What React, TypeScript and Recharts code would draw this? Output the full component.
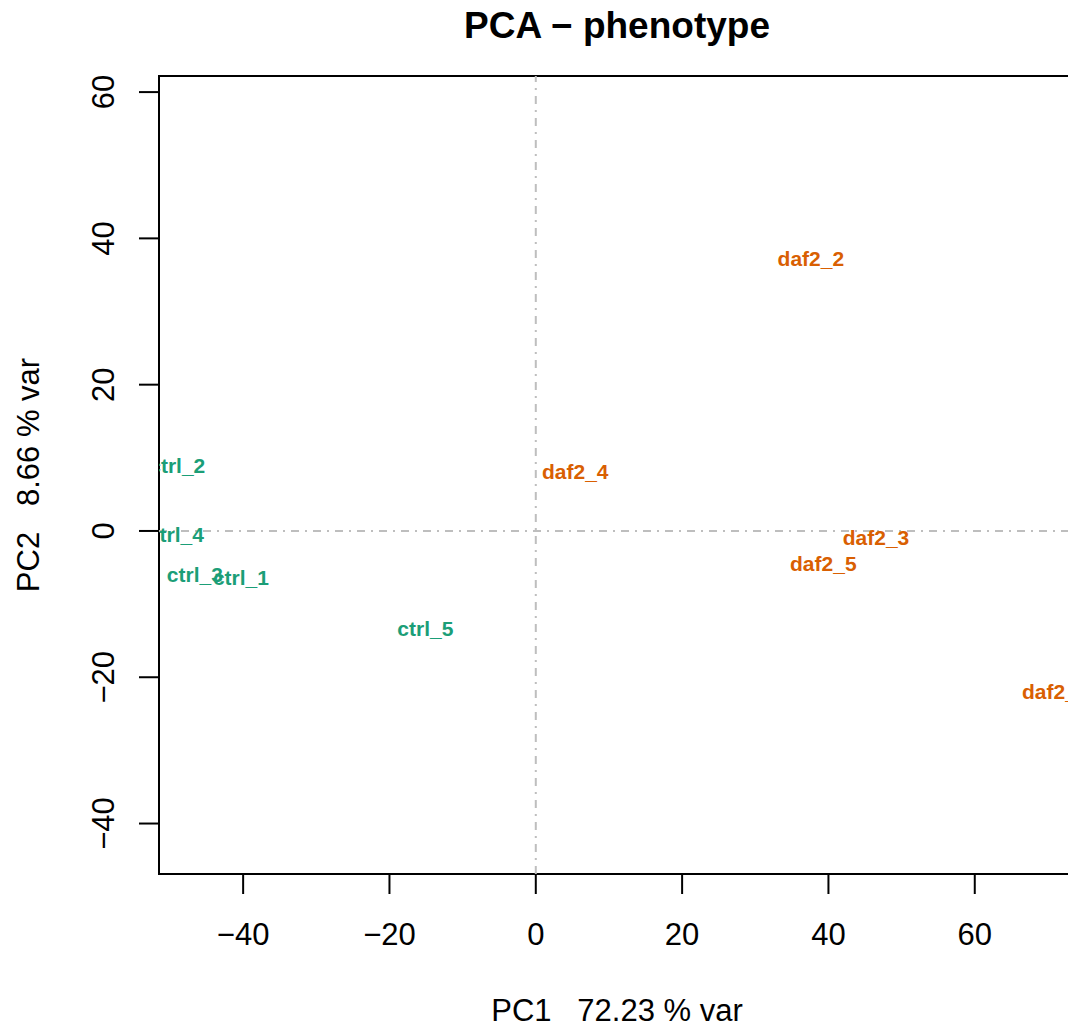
import React from 'react';
import {
  ScatterChart,
  Scatter,
  XAxis,
  YAxis,
  ReferenceLine,
  ReferenceArea,
  Customized,
} from 'recharts';

// ---- data ----
const ctrlNames = ['ctrl_1', 'ctrl_2', 'ctrl_3', 'ctrl_4', 'ctrl_5'];
const ctrlPC1 = [-40.3, -49.0, -46.6, -49.2, -15.1];
const ctrlPC2 = [-6.3, 8.9, -5.9, -0.5, -13.3];

const daf2Names = ['daf2_1', 'daf2_2', 'daf2_3', 'daf2_4', 'daf2_5'];
const daf2PC1 = [71.0, 37.6, 46.5, 5.4, 39.3];
const daf2PC2 = [-22.0, 37.2, -0.9, 8.1, -4.4];

const xTicks = [-40, -20, 0, 20, 40, 60];
const yTicks = [-40, -20, 0, 20, 40, 60];
const xDomain: [number, number] = [-51.5, 73.7];
const yDomain: [number, number] = [-46.9, 62.2];

const titleText = 'PCA \u2212 phenotype';
const xLabelText = 'PC1   72.23 % var';
const yLabelText = 'PC2   8.66 % var';

const ctrlData = ctrlNames.map((name, i) => ({ name, x: ctrlPC1[i], y: ctrlPC2[i] }));
const daf2Data = daf2Names.map((name, i) => ({ name, x: daf2PC1[i], y: daf2PC2[i] }));

// ---- layout ----
const CHART_W = 1120;
const CHART_H = 1028;
const PLOT_LEFT = 159;
const PLOT_TOP = 76;
const PLOT_RIGHT = 1075;
const PLOT_BOTTOM = 874;
const Y_AXIS_W = 100;
const X_AXIS_H = 100;
const FONT = '"Liberation Sans", Arial, Helvetica, sans-serif';
const GREEN = '#1B9E77';
const ORANGE = '#D95F02';

const fmt = (v: number) => (v < 0 ? '\u2212' + Math.abs(v) : String(v));

const XTick = (props: any) => {
  const { x, payload } = props;
  return (
    <text
      x={x}
      y={PLOT_BOTTOM + 71}
      textAnchor="middle"
      fontFamily={FONT}
      fontSize={31}
      fill="#000"
    >
      {fmt(payload.value)}
    </text>
  );
};

const YTick = (props: any) => {
  const { y, payload } = props;
  const bx = PLOT_LEFT - 45;
  return (
    <text
      x={bx}
      y={y}
      transform={`rotate(-90, ${bx}, ${y})`}
      textAnchor="middle"
      fontFamily={FONT}
      fontSize={31}
      fill="#000"
    >
      {fmt(payload.value)}
    </text>
  );
};

const makeLabelShape = (color: string) => (props: any) => {
  const { cx, cy, payload } = props;
  return (
    <text
      x={cx}
      y={cy}
      textAnchor="middle"
      dominantBaseline="central"
      fontFamily={FONT}
      fontWeight="bold"
      fontSize={21}
      fill={color}
    >
      {payload.name}
    </text>
  );
};

const Titles = () => {
  const cx = (PLOT_LEFT + PLOT_RIGHT) / 2;
  const cy = (PLOT_TOP + PLOT_BOTTOM) / 2;
  return (
    <g>
      <text
        x={cx}
        y={38}
        textAnchor="middle"
        fontFamily={FONT}
        fontWeight="bold"
        fontSize={37}
        fill="#000"
      >
        {titleText}
      </text>
      <text
        x={cx}
        y={1021}
        textAnchor="middle"
        fontFamily={FONT}
        fontSize={31}
        fill="#000"
        style={{ whiteSpace: 'pre' }}
      >
        {xLabelText}
      </text>
      <text
        x={39}
        y={cy}
        transform={`rotate(-90, 39, ${cy})`}
        textAnchor="middle"
        fontFamily={FONT}
        fontSize={31}
        fill="#000"
        style={{ whiteSpace: 'pre' }}
      >
        {yLabelText}
      </text>
    </g>
  );
};

export default function App() {
  return (
    <div
      style={{
        position: 'fixed',
        left: 0,
        top: 0,
        width: 1068,
        height: 1028,
        overflow: 'hidden',
        background: '#fff',
      }}
    >
      <ScatterChart
        width={CHART_W}
        height={CHART_H}
        margin={{
          top: PLOT_TOP,
          right: CHART_W - PLOT_RIGHT,
          bottom: CHART_H - PLOT_BOTTOM - X_AXIS_H,
          left: PLOT_LEFT - Y_AXIS_W,
        }}
      >
        <XAxis
          type="number"
          dataKey="x"
          domain={xDomain}
          ticks={xTicks}
          allowDataOverflow
          height={X_AXIS_H}
          axisLine={false}
          tickLine={{ stroke: '#000', strokeWidth: 2 }}
          tickSize={20}
          tick={<XTick />}
          interval={0}
        />
        <YAxis
          type="number"
          dataKey="y"
          domain={yDomain}
          ticks={yTicks}
          allowDataOverflow
          width={Y_AXIS_W}
          axisLine={false}
          tickLine={{ stroke: '#000', strokeWidth: 2 }}
          tickSize={20}
          tick={<YTick />}
          interval={0}
        />
        <ReferenceLine
          x={0}
          stroke="#BEBEBE"
          strokeWidth={2}
          strokeDasharray="8 6 2 6"
          ifOverflow="visible"
        />
        <ReferenceLine
          y={0}
          stroke="#BEBEBE"
          strokeWidth={2}
          strokeDasharray="8 6 2 6"
          ifOverflow="visible"
        />
        <Scatter
          name="ctrl"
          data={ctrlData}
          shape={makeLabelShape(GREEN)}
          isAnimationActive={false}
        />
        <Scatter
          name="daf2"
          data={daf2Data}
          shape={makeLabelShape(ORANGE)}
          isAnimationActive={false}
        />
        <ReferenceArea
          x1={xDomain[0]}
          x2={xDomain[1]}
          y1={yDomain[0]}
          y2={yDomain[1]}
          fill="none"
          fillOpacity={0}
          stroke="#000"
          strokeWidth={2}
          ifOverflow="visible"
        />
        <Customized component={Titles} />
      </ScatterChart>
    </div>
  );
}
